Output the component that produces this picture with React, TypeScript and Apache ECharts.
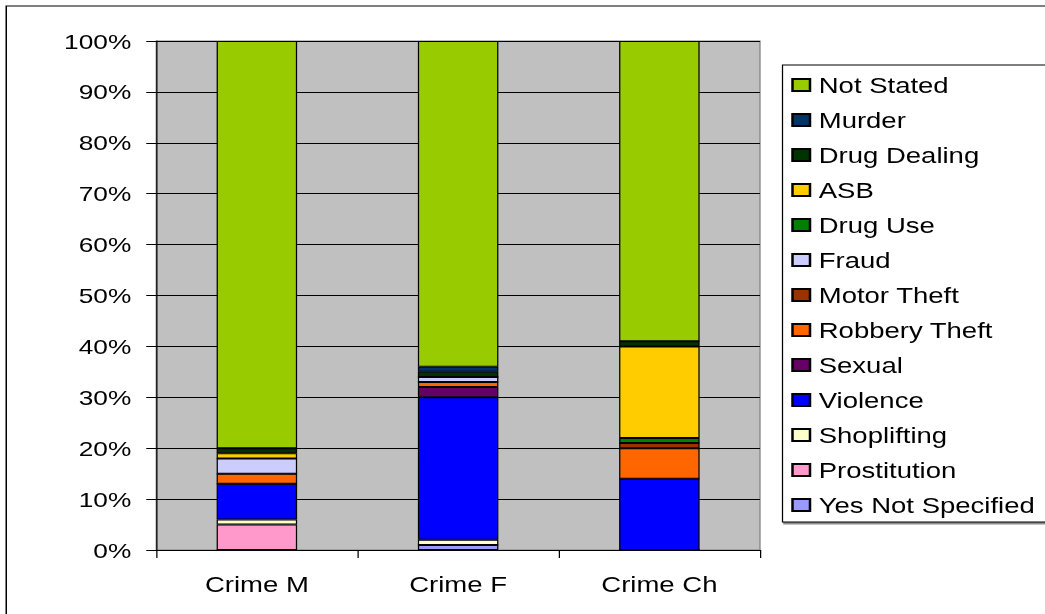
import React, { useEffect, useRef } from "react";
import * as echarts from "echarts";

// Categories along the x axis
const categories = ["Crime M", "Crime F", "Crime Ch"];

// Offence types, bottom of the stack first
const offenceNames = [
  "Yes Not Specified",
  "Prostitution",
  "Shoplifting",
  "Violence",
  "Sexual",
  "Robbery Theft",
  "Motor Theft",
  "Fraud",
  "Drug Use",
  "ASB",
  "Drug Dealing",
  "Murder",
  "Not Stated",
];

// Share (%) per category: [Crime M, Crime F, Crime Ch]
const yesNotSpecified = [0, 1, 0];
const prostitution = [5, 0, 0];
const shoplifting = [1, 1, 0];
const violence = [7, 28, 14];
const sexual = [0, 2, 0];
const robberyTheft = [2, 1, 6];
const motorTheft = [0, 0, 1];
const fraud = [3, 1, 0];
const drugUse = [0, 0, 1];
const asb = [1, 0, 18];
const drugDealing = [1, 1, 1];
const murder = [0, 1, 0];
const notStated = [80, 64, 59];

const offenceValues = [
  yesNotSpecified,
  prostitution,
  shoplifting,
  violence,
  sexual,
  robberyTheft,
  motorTheft,
  fraud,
  drugUse,
  asb,
  drugDealing,
  murder,
  notStated,
];

const offenceColors = [
  "#9999FF",
  "#FF99CC",
  "#FFFFCC",
  "#0000FF",
  "#660066",
  "#FF6600",
  "#993300",
  "#CCCCFF",
  "#008000",
  "#FFCC00",
  "#003300",
  "#003366",
  "#99CC00",
];

const FONT = "'Liberation Sans', Arial, Helvetica, sans-serif";
const STRETCH = 1.25;
const FULL_W = 1045;
const H = 614;
const BASE_W = FULL_W / STRETCH;

export default function App() {
  const ref = useRef<HTMLDivElement>(null);

  useEffect(() => {
    if (!ref.current) return;
    const chart = echarts.init(ref.current, null, { renderer: "svg" });

    const series = offenceNames.map((name, i) => ({
      name,
      type: "bar",
      stack: "total",
      barCategoryGap: "60%",
      data: offenceValues[i],
      itemStyle: {
        color: offenceColors[i],
        borderColor: "#000",
        borderWidth: 1,
      },
    }));

    chart.setOption({
      animation: false,
      backgroundColor: "#fff",
      textStyle: { fontFamily: FONT },
      graphic: [
        {
          type: "rect",
          shape: { x: 5, y: 6, width: BASE_W + 20, height: H + 20 },
          style: { fill: "none", stroke: "#000", lineWidth: 1.2 },
          silent: true,
        },
      ],
      grid: {
        left: 125,
        top: 41,
        right: BASE_W - 608,
        bottom: H - 550,
        show: true,
        backgroundColor: "#C0C0C0",
        borderColor: "#808080",
        borderWidth: 1,
      },
      legend: {
        orient: "vertical",
        left: 626,
        top: 65,
        data: [...offenceNames].reverse(),
        icon: "rect",
        itemWidth: 14,
        itemHeight: 12,
        itemGap: 13,
        padding: [9, 20, 6, 7],
        backgroundColor: "#fff",
        borderColor: "#000",
        borderWidth: 1,
        shadowColor: "rgba(0,0,0,0.45)",
        shadowOffsetX: 1,
        shadowOffsetY: 2,
        shadowBlur: 0,
        textStyle: {
          fontFamily: FONT,
          fontSize: 22,
          color: "#000",
          lineHeight: 22,
          padding: [0, 0, 0, 2],
        },
        selectedMode: false,
      },
      xAxis: {
        type: "category",
        data: categories,
        axisLine: { lineStyle: { color: "#000", width: 1 } },
        axisTick: { show: true, length: 8, lineStyle: { color: "#000" } },
        axisLabel: {
          color: "#000",
          fontFamily: FONT,
          fontSize: 22,
          margin: 23,
        },
      },
      yAxis: {
        type: "value",
        min: 0,
        max: 100,
        interval: 10,
        axisLine: { show: true, lineStyle: { color: "#000", width: 1 } },
        axisTick: { show: true, length: 8, lineStyle: { color: "#000" } },
        splitLine: { show: true, lineStyle: { color: "#000", width: 1 } },
        axisLabel: {
          color: "#000",
          fontFamily: FONT,
          fontSize: 21,
          margin: 20,
          formatter: "{value}%",
        },
      },
      series,
    });

    return () => chart.dispose();
  }, []);

  return (
    <div
      style={{
        position: "fixed",
        left: 0,
        top: 0,
        width: FULL_W,
        height: H,
        overflow: "hidden",
        background: "#fff",
      }}
    >
      <div
        ref={ref}
        style={{
          width: BASE_W,
          height: H,
          transform: `scaleX(${STRETCH})`,
          transformOrigin: "0 0",
        }}
      />
    </div>
  );
}
